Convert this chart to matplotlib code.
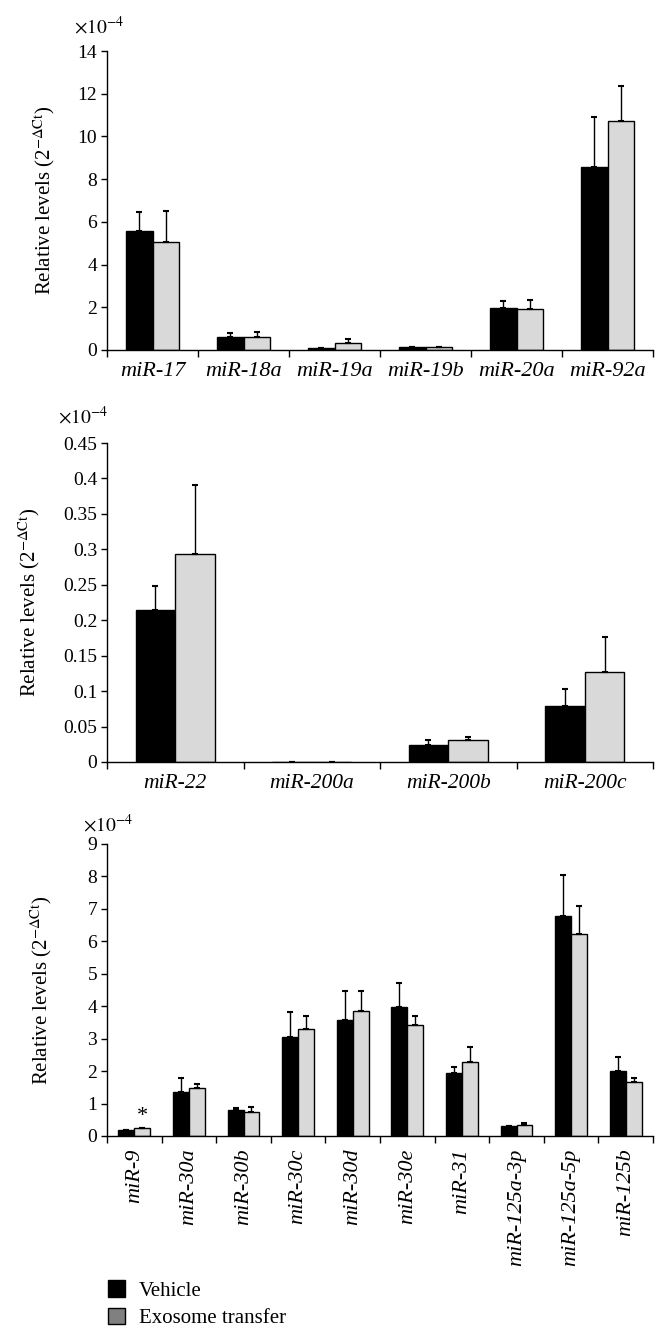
import numpy as np
import matplotlib
matplotlib.use("Agg")
import matplotlib.pyplot as plt
from matplotlib.patches import Patch

plt.rcParams['font.family'] = ['Liberation Serif', 'DejaVu Serif']
plt.rcParams['mathtext.fontset'] = 'stix'

# Panel A (x1e-4)
cats_a = ['miR-17', 'miR-18a', 'miR-19a', 'miR-19b', 'miR-20a', 'miR-92a']
veh_a = [5.57, 0.59, 0.08, 0.12, 1.98, 8.57]
veh_a_err = [0.90, 0.19, 0.03, 0.04, 0.31, 2.33]
exo_a = [5.08, 0.62, 0.31, 0.12, 1.92, 10.74]
exo_a_err = [1.41, 0.22, 0.19, 0.02, 0.40, 1.62]

# Panel B (x1e-4)
cats_b = ['miR-22', 'miR-200a', 'miR-200b', 'miR-200c']
veh_b = [0.2148, 0.0006, 0.0244, 0.0785]
veh_b_err = [0.0329, 0.0, 0.0071, 0.0249]
exo_b = [0.2928, 0.0006, 0.0310, 0.1269]
exo_b_err = [0.0982, 0.0, 0.0038, 0.0489]

# Panel C (x1e-4)
cats_c = ['miR-9', 'miR-30a', 'miR-30b', 'miR-30c', 'miR-30d', 'miR-30e',
          'miR-31', 'miR-125a-3p', 'miR-125a-5p', 'miR-125b']
veh_c = [0.17, 1.36, 0.80, 3.06, 3.56, 3.99, 1.94, 0.31, 6.78, 2.00]
veh_c_err = [0.01, 0.44, 0.05, 0.75, 0.91, 0.74, 0.20, 0.01, 1.26, 0.42]
exo_c = [0.24, 1.49, 0.73, 3.31, 3.86, 3.42, 2.28, 0.33, 6.24, 1.65]
exo_c_err = [0.01, 0.12, 0.15, 0.39, 0.61, 0.29, 0.45, 0.08, 0.85, 0.14]

W, H = 668, 1341
fig = plt.figure(figsize=(W / 100, H / 100), dpi=100)

bar_w = 0.29
ylab = r'Relative levels (2$^{-\Delta \mathrm{Ct}}$)'
left, width = 107 / W, 546 / W


def panel(rect, cats, veh, veh_err, exo, exo_err, ylim, yticks, yticklabels,
          rotate=False, xfs=16):
    ax = fig.add_axes(rect)
    x = np.arange(len(cats))
    ax.bar(x - bar_w / 2, veh, bar_w, color='black', edgecolor='black', lw=1)
    ax.bar(x + bar_w / 2, exo, bar_w, color='#d9d9d9', edgecolor='black', lw=1)
    ax.errorbar(x - bar_w / 2, veh, yerr=[np.zeros(len(veh)), veh_err],
                fmt='none', ecolor='black', elinewidth=1, capsize=2.5, capthick=1.5)
    ax.errorbar(x + bar_w / 2, exo, yerr=[np.zeros(len(exo)), exo_err],
                fmt='none', ecolor='black', elinewidth=1, capsize=2.5, capthick=1.5)
    ax.set_xlim(-0.5, len(cats) - 0.5)
    ax.set_ylim(*ylim)
    ax.set_yticks(yticks)
    ax.set_yticklabels(yticklabels, fontsize=14)
    ax.set_xticks(np.arange(len(cats) + 1) - 0.5, minor=True)
    ax.set_xticks(x)
    ax.set_xticklabels(cats, fontsize=xfs, style='italic',
                       rotation=90 if rotate else 0)
    ax.tick_params(axis='x', which='major', length=0, pad=9)
    ax.tick_params(axis='x', which='minor', length=5, width=1, direction='out')
    ax.tick_params(axis='y', length=4, width=1, direction='out', pad=3)
    for s in ['top', 'right']:
        ax.spines[s].set_visible(False)
    for s in ['left', 'bottom']:
        ax.spines[s].set_linewidth(1)
    ax.set_ylabel(ylab, fontsize=15)
    return ax


ax1 = panel([left, 1 - 350 / H, width, 299 / H], cats_a, veh_a, veh_a_err,
            exo_a, exo_a_err, (0, 14), range(0, 15, 2),
            [str(v) for v in range(0, 15, 2)])
ax1.yaxis.set_label_coords(-0.092, 0.5)

b_ticks = [0, 0.05, 0.1, 0.15, 0.2, 0.25, 0.3, 0.35, 0.4, 0.45]
ax2 = panel([left, 1 - 762 / H, width, 319 / H], cats_b, veh_b, veh_b_err,
            exo_b, exo_b_err, (0, 0.45), b_ticks,
            ['0', '0.05', '0.1', '0.15', '0.2', '0.25', '0.3', '0.35', '0.4', '0.45'],
            xfs=15.5)
ax2.yaxis.set_label_coords(-0.119, 0.5)

ax3 = panel([left, 1 - 1136 / H, width, 292 / H], cats_c, veh_c, veh_c_err,
            exo_c, exo_c_err, (0, 9), range(0, 10),
            [str(v) for v in range(0, 10)], rotate=True)
ax3.yaxis.set_label_coords(-0.097, 0.5)
ax3.text(0 + bar_w / 2, 0.3, '*', ha='center', va='bottom', fontsize=16)

for xo, yo in [(74, 27), (58, 417), (83, 825)]:
    fig.text(xo / W, 1 - yo / H, r'$\times10^{-4}$', fontsize=14,
             ha='left', va='center')

handles = [Patch(facecolor='black', edgecolor='black'),
           Patch(facecolor='#808080', edgecolor='black')]
fig.legend(handles, ['Vehicle', 'Exosome transfer'], loc='upper left',
           bbox_to_anchor=(108 / W, 1 - 1280 / H), frameon=False, fontsize=15,
           handlelength=0.8, handleheight=0.85, handletextpad=0.67,
           labelspacing=0.35, borderpad=0, borderaxespad=0)

fig.savefig('out.png', dpi=100)
